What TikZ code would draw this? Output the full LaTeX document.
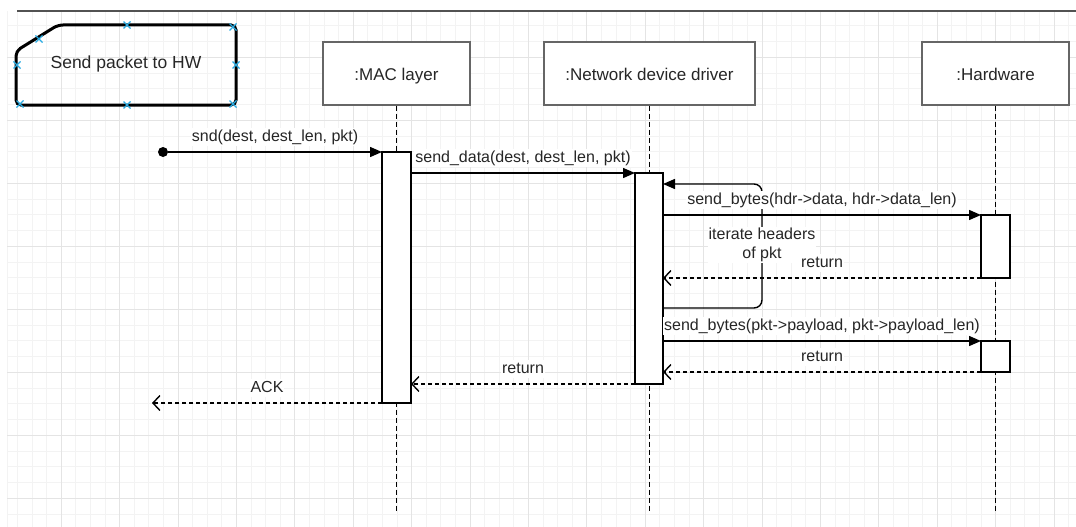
\documentclass[tikz,border=0pt]{standalone}
\usepackage{fontspec}
\setmainfont{Liberation Sans}
\usetikzlibrary{arrows.meta}
\definecolor{gridminor}{HTML}{F3F3F3}
\definecolor{gridmajor}{HTML}{E4E4E4}
\definecolor{headline}{HTML}{666666}
\definecolor{handle}{HTML}{29ABE2}
\begin{document}
\begin{tikzpicture}[x=1pt,y=-1pt,
	every node/.style={font=\fontsize{16}{19}\selectfont,text=black!85},
	head/.style={draw=headline,line width=1.4pt,fill=white,minimum height=63pt,inner sep=0pt,text height=14pt,text depth=0pt,font=\fontsize{17}{20}\selectfont},
	act/.style={draw,line width=1.4pt,fill=white,minimum width=29pt,inner sep=0pt,outer sep=0pt},
	life/.style={line width=1.4pt,dash pattern=on 5pt off 3pt},
	msg/.style={line width=1.4pt,-{Triangle[length=12pt,width=10pt]}},
	ret/.style={line width=1.4pt,dash pattern=on 4pt off 3pt,-{Straight Barb[length=7pt,width=15pt]}},
	lbl/.style={fill=white,inner sep=1pt,above=5pt,text height=12pt,text depth=4pt}]
	\useasboundingbox (0,0) rectangle (1076,527);
	\foreach \k in {1,...,32}
		\draw[gridminor] (7,9.75+15.75*\k) -- (1076,9.75+15.75*\k);
	\foreach \k in {0,...,72}
		\draw[gridminor] (17.2+14.6*\k,11) -- (17.2+14.6*\k,527);
	\draw[gridminor] (7,11) -- (7,527);
	\foreach \k in {0,...,7}
		\draw[gridmajor] (7,57+63*\k) -- (1076,57+63*\k);
	\foreach \k in {0,...,17}
		\draw[gridmajor] (61+58.4*\k,11) -- (61+58.4*\k,527);
	\draw[headline!80!black,line width=2pt] (17,11) -- (1076,11);

	\draw[line width=3pt,rounded corners=5pt] (16,51) -- (58,25) -- (236,25) -- (236,105) -- (16,105) -- cycle;
	\node[font=\fontsize{17.5}{21}\selectfont] (frame) at (126,64) {Send packet to HW};
	\foreach \p in {(127,25),(233,27),(236,65),(233,104),(127,105),(20,104),(17,65),(39,39)}
		\draw[handle,line width=1.2pt] \p ++(-3.5,-3.5) -- ++(7,7) ++(-7,0) -- ++(7,-7);

	\node[head,minimum width=147pt] (mac) at (396.5,73.5) {:MAC layer};
	\node[head,minimum width=211pt] (ndd) at (649.5,73.5) {:Network device driver};
	\node[head,minimum width=147pt] (hw) at (995.5,73.5) {:Hardware};
	\foreach \n in {mac,ndd,hw}
		\draw[life] (\n.south) -- (\n.south |- 0,513);

	\node[act,minimum height=251pt] (macact) at (396.5,277.5) {};
	\node[act,minimum width=28pt,minimum height=211pt] (nddact) at (649,278.5) {};
	\node[act,minimum height=63pt] (hwact1) at (995.5,246.5) {};
	\node[act,minimum height=31pt] (hwact2) at (995.5,356.5) {};

	\node[circle,fill=black,inner sep=0pt,minimum size=10pt] (start) at (163,152) {};
	\draw[msg] (start) -- (macact.north west) node[lbl,midway]{snd(dest, dest\_len, pkt)};
	\draw[msg] (macact.east |- nddact.north) -- (nddact.north west) node[lbl,midway]{send\_data(dest, dest\_len, pkt)};

	\coordinate (loopa) at (762,308);
	\coordinate (loopb) at (762,184);
	\draw[msg,rounded corners=8pt] (nddact.east |- loopa) -- (loopa) -- (loopb) -- (nddact.east |- loopb);
	\node[fill=white,inner sep=1pt,align=center] (iter) at (762,245) {iterate headers\\of pkt};

	\draw[msg] (nddact.east |- hwact1.north) -- (hwact1.north west) node[lbl,midway]{send\_bytes(hdr->data, hdr->data\_len)};
	\draw[ret] (hwact1.south west) -- (nddact.east |- hwact1.south) node[lbl,midway]{return};
	\draw[msg] (nddact.east |- hwact2.north) -- (hwact2.north west) node[lbl,midway]{send\_bytes(pkt->payload, pkt->payload\_len)};
	\draw[ret] (hwact2.south west) -- (nddact.east |- hwact2.south) node[lbl,midway]{return};
	\draw[ret] (nddact.south west) -- (macact.east |- nddact.south) node[lbl,midway]{return};
	\coordinate (ackend) at (152,403);
	\draw[ret] (macact.south west) -- (ackend) node[lbl,midway]{ACK};
\end{tikzpicture}
\end{document}
